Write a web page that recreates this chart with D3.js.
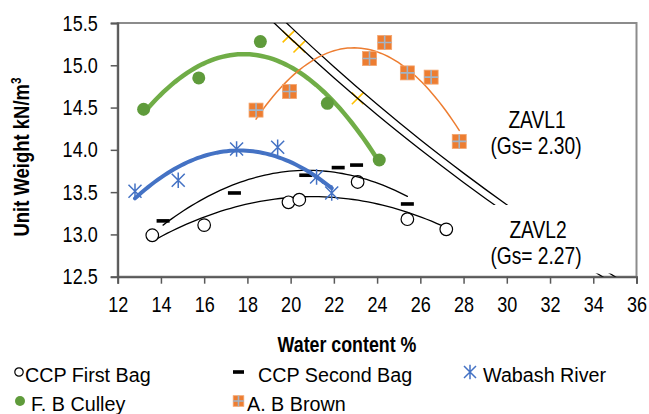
<!DOCTYPE html>
<html>
<head>
<meta charset="utf-8">
<script src="https://cdn.jsdelivr.net/npm/d3@7"></script>
<style>
  html, body { margin: 0; padding: 0; background: #fff; }
  svg { display: block; }
  text { font-family: 'Liberation Sans', Arial, sans-serif; fill: #000; }
</style>
</head>
<body>
<div id="chart"></div>
<script>
// Compaction test results: water content (%) and unit weight (kN/m³)
const ccpFirstW  = [13.6, 16.0, 19.9, 20.4, 23.1, 25.4, 27.2];
const ccpFirstG  = [12.99, 13.11, 13.38, 13.41, 13.62, 13.18, 13.06];
const ccpSecondW = [14.1, 17.4, 20.7, 22.2, 23.05, 25.4];
const ccpSecondG = [13.16, 13.49, 13.70, 13.79, 13.82, 13.36];
const wabashW    = [12.8, 14.8, 17.5, 19.4, 21.2, 21.9];
const wabashG    = [13.51, 13.64, 14.01, 14.03, 13.68, 13.49];
const culleyW    = [13.2, 15.75, 18.6, 21.7, 24.1];
const culleyG    = [14.48, 14.85, 15.28, 14.55, 13.88];
const brownW     = [18.4, 19.95, 23.65, 24.35, 25.4, 26.5, 27.8];
const brownG     = [14.47, 14.69, 15.08, 15.27, 14.91, 14.86, 14.10];

// Zero air void lines (Gs = 2.27 and Gs = 2.30)
const zavl2W = [19, 20, 22, 24, 26, 28, 30, 32, 34, 36];
const zavl2G = [15.558, 15.316, 14.852, 14.415, 14.004, 13.615, 13.247, 12.899, 12.568, 12.254];
const zavl1W = [19, 20, 22, 24, 26, 28, 30, 32, 34, 36];
const zavl1G = [15.701, 15.454, 14.982, 14.538, 14.119, 13.725, 13.351, 12.997, 12.662, 12.343];
// marked points on the Gs = 2.27 line
const zavlMarkW = [19.9, 20.4, 23.1];
const zavlMarkG = [15.339, 15.220, 14.608];

const xTicks = [12, 14, 16, 18, 20, 22, 24, 26, 28, 30, 32, 34, 36];
const yTicks = [12.5, 13.0, 13.5, 14.0, 14.5, 15.0, 15.5];

const W = 649, H = 414;
const svg = d3.select('#chart').append('svg').attr('width', W).attr('height', H);

const x = d3.scaleLinear().domain([12, 36]).range([117.7, 636.5]);
const y = d3.scaleLinear().domain([12.5, 15.5]).range([276.7, 23]);

const zip = (a, b) => a.map((v, i) => [v, b[i]]);

// condensed text: horizontal squeeze around the anchor point
function label(parent, px, py, str, size, sx, opts = {}) {
  const t = parent.append('text')
    .attr('transform', `translate(${px},${py})${opts.rotate ? ` rotate(${opts.rotate})` : ''} scale(${sx},1)`)
    .attr('font-size', size)
    .attr('text-anchor', opts.anchor || 'start');
  if (opts.bold) t.attr('font-weight', 'bold');
  t.text(str);
  return t;
}

// least-squares polynomial trend
function polyfit(xs, ys, order) {
  const n = order + 1;
  const m = xs.reduce((s, v) => s + v, 0) / xs.length;
  const A = Array.from({length: n}, () => new Array(n + 1).fill(0));
  xs.forEach((xv, k) => {
    const t = xv - m;
    for (let i = 0; i < n; i++) {
      for (let j = 0; j < n; j++) A[i][j] += Math.pow(t, i + j);
      A[i][n] += ys[k] * Math.pow(t, i);
    }
  });
  for (let i = 0; i < n; i++) {
    let p = i;
    for (let r = i + 1; r < n; r++) if (Math.abs(A[r][i]) > Math.abs(A[p][i])) p = r;
    [A[i], A[p]] = [A[p], A[i]];
    for (let r = 0; r < n; r++) {
      if (r === i) continue;
      const f = A[r][i] / A[i][i];
      for (let c = i; c <= n; c++) A[r][c] -= f * A[i][c];
    }
  }
  const coef = A.map((row, i) => row[n] / row[i]);
  return xv => coef.reduce((s, c, i) => s + c * Math.pow(xv - m, i), 0);
}
function trend(xs, ys, order) {
  const f = polyfit(xs, ys, order);
  const lo = d3.min(xs), hi = d3.max(xs);
  return d3.range(0, 61).map(i => { const w = lo + (hi - lo) * i / 60; return [w, f(w)]; });
}

const line = d3.line().x(d => x(d[0])).y(d => y(d[1]));
const smooth = d3.line().x(d => x(d[0])).y(d => y(d[1])).curve(d3.curveMonotoneX);

svg.append('clipPath').attr('id', 'plot-clip')
  .append('rect').attr('x', x(12)).attr('y', y(15.5))
  .attr('width', x(36) - x(12)).attr('height', y(12.5) - y(15.5));

// plot area border
svg.append('rect')
  .attr('x', x(12)).attr('y', y(15.5))
  .attr('width', x(36) - x(12)).attr('height', y(12.5) - y(15.5))
  .attr('fill', 'none').attr('stroke', '#8c8c8c').attr('stroke-width', 2);

// axes
const tickFont = 22, tickSx = 0.82;
const xAxis = svg.append('g').attr('transform', `translate(0,${y(12.5)})`)
  .call(d3.axisBottom(x).tickValues(xTicks).tickSize(7).tickPadding(6).tickFormat(d3.format('d')));
const yAxis = svg.append('g').attr('transform', `translate(${x(12)},0)`)
  .call(d3.axisLeft(y).tickValues(yTicks).tickSize(7).tickPadding(13).tickFormat(d3.format('.1f')));
[xAxis, yAxis].forEach(g => {
  g.attr('font-family', null).attr('font-size', null);
  g.select('.domain').attr('stroke', '#595959').attr('stroke-width', 2);
  g.selectAll('.tick line').attr('stroke', '#595959').attr('stroke-width', 1.5);
  g.selectAll('.tick text').attr('font-size', tickFont).attr('fill', '#000');
});
xAxis.selectAll('.tick text').attr('y', 20).attr('dy', '0.71em')
  .attr('transform', `scale(${tickSx},1)`);
yAxis.selectAll('.tick text').attr('x', -20 / tickSx)
  .attr('transform', `scale(${tickSx},1)`);

const plot = svg.append('g').attr('clip-path', 'url(#plot-clip)');

// zero air void lines with their marked points underneath
plot.selectAll('.zmark').data(zip(zavlMarkW, zavlMarkG)).join('path')
  .attr('transform', d => `translate(${x(d[0])},${y(d[1])})`)
  .attr('d', 'M-5.8,-5.8L5.8,5.8M-5.8,5.8L5.8,-5.8')
  .attr('stroke', '#FFC000').attr('stroke-width', 1.6).attr('fill', 'none');
plot.append('path').datum(zip(zavl2W, zavl2G)).attr('d', smooth)
  .attr('fill', 'none').attr('stroke', '#000').attr('stroke-width', 1.3);
plot.append('path').datum(zip(zavl1W, zavl1G)).attr('d', smooth)
  .attr('fill', 'none').attr('stroke', '#000').attr('stroke-width', 1.3);

// label boxes for the ZAVL curves
svg.append('rect').attr('x', 487).attr('y', 205).attr('width', 133).attr('height', 68.5).attr('fill', '#fff');
const lbl = svg.append('g');
const zf = 24, zsx = 0.8;
label(lbl, 537, 128, 'ZAVL1', zf, zsx, {anchor: 'middle'});
label(lbl, 536, 154, '(Gs= 2.30)', zf, zsx, {anchor: 'middle'});
label(lbl, 538, 238, 'ZAVL2', zf, zsx, {anchor: 'middle'});
label(lbl, 536, 264, '(Gs= 2.27)', zf, zsx, {anchor: 'middle'});

// trend lines
const trends = [
  {w: ccpFirstW,  g: ccpFirstG,  color: '#000',    width: 1.3},
  {w: ccpSecondW, g: ccpSecondG, color: '#000',    width: 1.3},
  {w: wabashW,    g: wabashG,    color: '#4472C4', width: 4},
  {w: culleyW,    g: culleyG,    color: '#70AD47', width: 4.5},
  {w: brownW,     g: brownG,     color: '#ED7D31', width: 1.5}
];

// marker shapes
function drawMarker(g, type, size) {
  if (type === 'circle') {
    g.append('circle').attr('r', size).attr('fill', '#fff').attr('stroke', '#000').attr('stroke-width', 1.2);
  } else if (type === 'dash') {
    g.append('rect').attr('x', -size).attr('y', -1.8).attr('width', size * 2).attr('height', 3.6).attr('fill', '#000');
  } else if (type === 'star') {
    const s = size;
    g.append('path').attr('d', `M${-s},${-s}L${s},${s}M${-s},${s}L${s},${-s}M0,${-s * 1.2}L0,${s * 1.2}`)
      .attr('stroke', '#4472C4').attr('stroke-width', 1.5).attr('fill', 'none');
  } else if (type === 'dot') {
    g.append('circle').attr('r', size).attr('fill', '#5f9b3b');
  } else if (type === 'square') {
    g.append('rect').attr('x', -size).attr('y', -size).attr('width', size * 2).attr('height', size * 2)
      .attr('fill', '#ED7D31').attr('stroke', '#f4a56e').attr('stroke-width', 0.8);
    g.append('path').attr('d', `M${-size},0L${size},0M0,${-size}L0,${size}`)
      .attr('stroke', '#a3b4c6').attr('stroke-width', 1.6);
  }
}

const series = [
  {w: ccpFirstW,  g: ccpFirstG,  type: 'circle', size: 6.3},
  {w: ccpSecondW, g: ccpSecondG, type: 'dash',   size: 6.5},
  {w: wabashW,    g: wabashG,    type: 'star',   size: 6.5},
  {w: culleyW,    g: culleyG,    type: 'dot',    size: 6.5},
  {w: brownW,     g: brownG,     type: 'square', size: 7}
];

series.forEach((s, i) => {
  const t = trends[i];
  const grp = svg.append('g');
  grp.append('path').datum(trend(t.w, t.g, 2)).attr('d', line)
    .attr('fill', 'none').attr('stroke', t.color).attr('stroke-width', t.width).attr('stroke-linecap', 'round');
  zip(s.w, s.g).forEach(d => {
    const m = grp.append('g').attr('transform', `translate(${x(d[0])},${y(d[1])})`);
    drawMarker(m, s.type, s.size);
  });
});

// axis titles
label(svg, 347, 352, 'Water content %', 22, 0.81, {anchor: 'middle', bold: true});
const yt = label(svg, 29, 157, '', 22, 0.84, {anchor: 'middle', bold: true, rotate: -90});
yt.append('tspan').text('Unit Weight kN/m');
yt.append('tspan').attr('font-size', 14).attr('dy', -8).text('3');

// legend
const legendItems = [
  {label: 'CCP First Bag',  type: 'circle', size: 4.2, mx: 19,    tx: 25,  row: 0},
  {label: 'CCP Second Bag', type: 'dash',   size: 5.5, mx: 238.5, tx: 258, row: 0},
  {label: 'Wabash River',   type: 'star',   size: 6,   mx: 470,   tx: 483, row: 0},
  {label: 'F. B Culley',    type: 'dot',    size: 5,   mx: 20,    tx: 31,  row: 1},
  {label: 'A. B Brown',     type: 'square', size: 5.3, mx: 238.5, tx: 247, row: 1}
];
const rowY = [372, 401];
const leg = svg.append('g');
legendItems.forEach(it => {
  const m = leg.append('g').attr('transform', `translate(${it.mx},${rowY[it.row]})`);
  drawMarker(m, it.type, it.size);
  label(leg, it.tx, rowY[it.row] + 10, it.label, 21, 0.94);
});
</script>
</body>
</html>
